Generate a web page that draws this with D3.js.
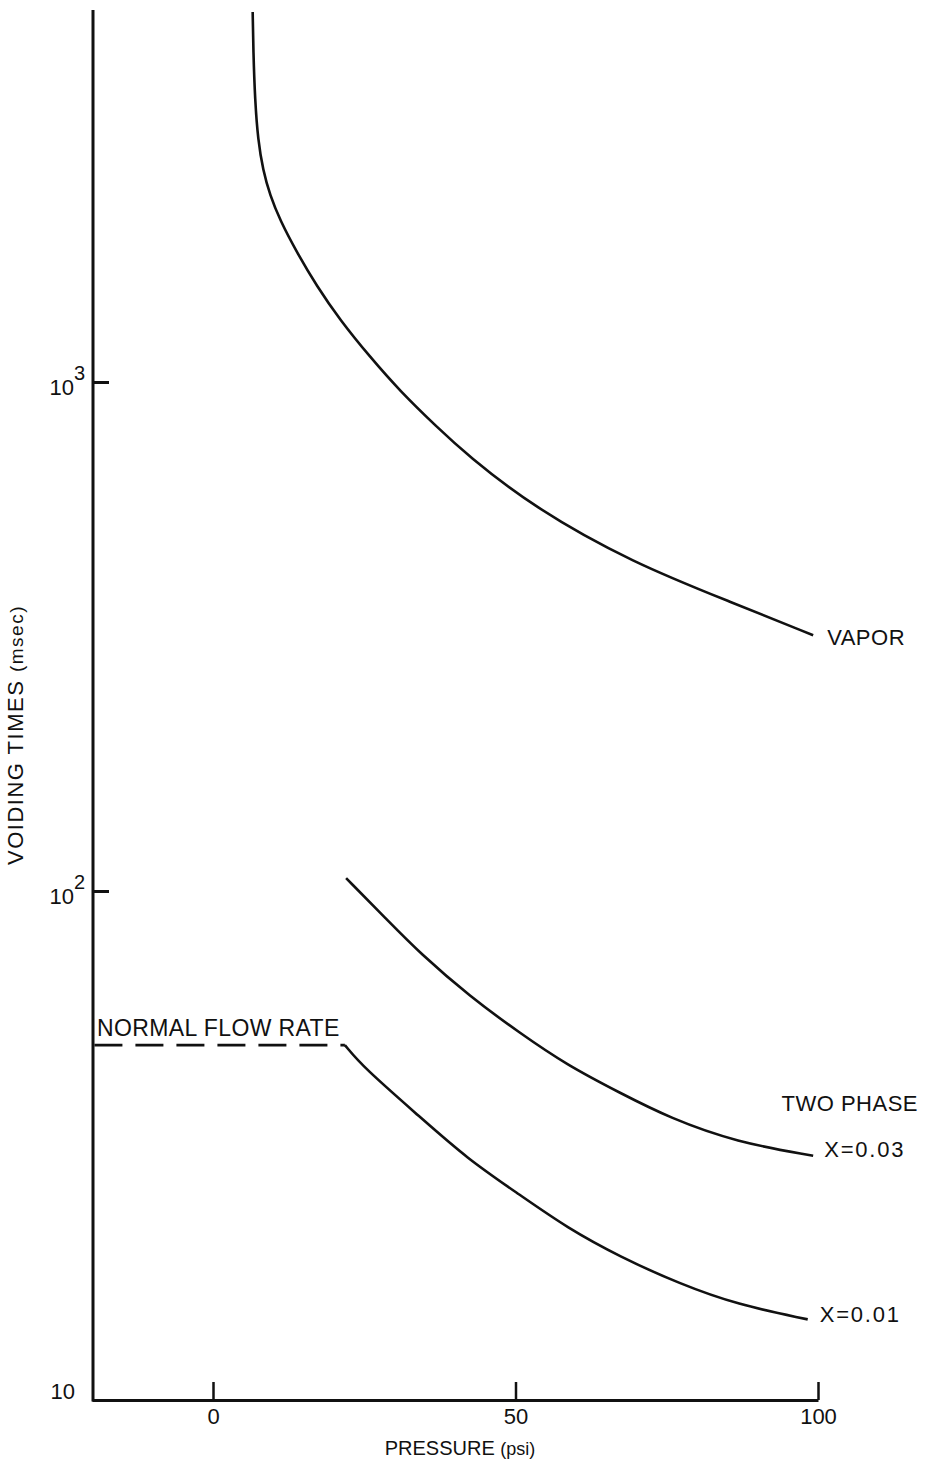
<!DOCTYPE html>
<html>
<head>
<meta charset="utf-8">
<script src="https://cdn.jsdelivr.net/npm/d3@7"></script>
<style>
  html, body { margin: 0; padding: 0; background: #fff; }
  text { font-family: "Liberation Sans", "DejaVu Sans", sans-serif; fill: #111; }
</style>
</head>
<body>
<div id="chart"></div>
<script>
// axis ticks
const pressureTicks = [0, 50, 100];
const timeTicks = [10, 100, 1000];
const timeExponents = ["", "2", "3"];

// VAPOR curve
const vaporPsi = [6.56, 6.66, 6.94, 7.44, 8.26, 9.42, 11.07, 13.83, 17.14, 20.99, 25.95, 30.9, 37.0, 42.0, 52.9, 69.4, 86.0, 99.2];
const vaporMs = [5333, 4487, 3583, 2986, 2609, 2328, 2080, 1800, 1544, 1324, 1120, 960, 816, 719, 568, 441, 368, 318];

// TWO PHASE X=0.03
const x03Psi = [22.0, 28.7, 34.2, 42.5, 50.7, 58.5, 67.3, 75.5, 86.5, 99.2];
const x03Ms = [106, 88, 75.5, 62, 52.6, 45.5, 40.1, 35.8, 32.1, 30.2];

// TWO PHASE X=0.01
const x01Psi = [21.8, 24.8, 34.2, 42.0, 50.7, 58.5, 67.3, 77.2, 86.6, 98.3];
const x01Ms = [49.8, 45.1, 36.0, 29.8, 25.3, 21.8, 19.1, 16.9, 15.4, 14.4];

// normal flow rate (dashed)
const normalPsi = [-19.6, 21.8];
const normalMs = [49.8, 49.8];

const w = 928;
const h = 1464;

const svg = d3.select("#chart").append("svg").attr("width", w).attr("height", h);

const x = d3.scaleLinear().domain([-20, 100]).range([92, 818]);
const y = d3.scaleLog().domain([10, 1000]).range([1400, 382]);

const zip = (xs, ys) => xs.map((v, i) => [v, ys[i]]);

const line = d3.line()
  .x((d) => x(d[0]))
  .y((d) => y(d[1]))
  .curve(d3.curveBasis);

// x axis
const xAxis = svg.append("g")
  .attr("transform", `translate(0,${y(10)})`)
  .call(d3.axisBottom(x).tickValues(pressureTicks).tickSizeInner(-18).tickSizeOuter(0).tickPadding(8));
xAxis.select(".domain").attr("stroke", "#111").attr("stroke-width", 3);
xAxis.selectAll(".tick line").attr("stroke", "#111").attr("stroke-width", 2.5);
xAxis.selectAll(".tick text").style("font-size", "22px").attr("fill", "#111");

// y axis
const yAxisX = 93;
svg.append("line")
  .attr("x1", yAxisX).attr("x2", yAxisX)
  .attr("y1", 10).attr("y2", y(10) + 1.5)
  .attr("stroke", "#111").attr("stroke-width", 3);

const yAxis = svg.append("g")
  .attr("transform", `translate(${yAxisX},0)`)
  .call(d3.axisLeft(y).tickValues(timeTicks).tickSizeInner(-16).tickSizeOuter(0).tickPadding(8).tickFormat(() => ""));
yAxis.select(".domain").remove();
yAxis.selectAll(".tick line").attr("stroke", "#111").attr("stroke-width", 3);
yAxis.selectAll(".tick text").each(function (d, i) {
  const t = d3.select(this)
    .style("font-size", "22px")
    .attr("fill", "#111")
    .attr("dx", i === 0 ? -10 : 0)
    .attr("dy", i === 0 ? "-0.05em" : "0.55em");
  t.append("tspan").text("10");
  if (timeExponents[i]) {
    t.append("tspan").attr("dy", "-0.75em").style("font-size", "20px").text(timeExponents[i]);
  }
});

// curves
svg.append("path")
  .attr("d", line(zip(vaporPsi, vaporMs)))
  .attr("fill", "none").attr("stroke", "#111").attr("stroke-width", 2.6);

svg.append("path")
  .attr("d", line(zip(x03Psi, x03Ms)))
  .attr("fill", "none").attr("stroke", "#111").attr("stroke-width", 2.6);

svg.append("path")
  .attr("d", line(zip(x01Psi, x01Ms)))
  .attr("fill", "none").attr("stroke", "#111").attr("stroke-width", 2.6);

svg.append("path")
  .attr("d", d3.line().x((d) => x(d[0])).y((d) => y(d[1]))(zip(normalPsi, normalMs)))
  .attr("fill", "none").attr("stroke", "#111").attr("stroke-width", 2.6)
  .attr("stroke-dasharray", "28,13");

// labels
const vEnd = [vaporPsi[vaporPsi.length - 1], vaporMs[vaporMs.length - 1]];
svg.append("text")
  .attr("x", x(vEnd[0]) + 14).attr("y", y(vEnd[1]) + 2)
  .attr("dy", "0.35em")
  .style("font-size", "22px")
  .style("letter-spacing", "0.5px")
  .text("VAPOR");

const e03 = [x03Psi[x03Psi.length - 1], x03Ms[x03Ms.length - 1]];
svg.append("text")
  .attr("x", 918).attr("y", y(e03[1]) - 52)
  .attr("dy", "0.35em")
  .attr("text-anchor", "end")
  .style("font-size", "22px")
  .style("letter-spacing", "0.5px")
  .text("TWO PHASE");
svg.append("text")
  .attr("x", x(e03[0]) + 11).attr("y", y(e03[1]) - 6)
  .attr("dy", "0.35em")
  .style("font-size", "22px")
  .style("letter-spacing", "1.8px")
  .text("X=0.03");

const e01 = [x01Psi[x01Psi.length - 1], x01Ms[x01Ms.length - 1]];
svg.append("text")
  .attr("x", x(e01[0]) + 12).attr("y", y(e01[1]) - 5)
  .attr("dy", "0.35em")
  .style("font-size", "22px")
  .style("letter-spacing", "1.8px")
  .text("X=0.01");

svg.append("text")
  .attr("x", yAxisX + 4).attr("y", y(normalMs[0]) - 9)
  .style("font-size", "23px")
  .style("letter-spacing", "0.4px")
  .text("NORMAL FLOW RATE");

// axis titles
svg.append("text")
  .attr("x", 460).attr("y", 1455)
  .attr("text-anchor", "middle")
  .style("font-size", "20px")
  .html('PRESSURE <tspan style="font-size:18px">(psi)</tspan>');

svg.append("text")
  .attr("transform", "translate(23,735) rotate(-90)")
  .attr("text-anchor", "middle")
  .style("font-size", "22px")
  .style("letter-spacing", "1.5px")
  .html('VOIDING TIMES <tspan style="font-size:19px">(msec)</tspan>');
</script>
</body>
</html>
